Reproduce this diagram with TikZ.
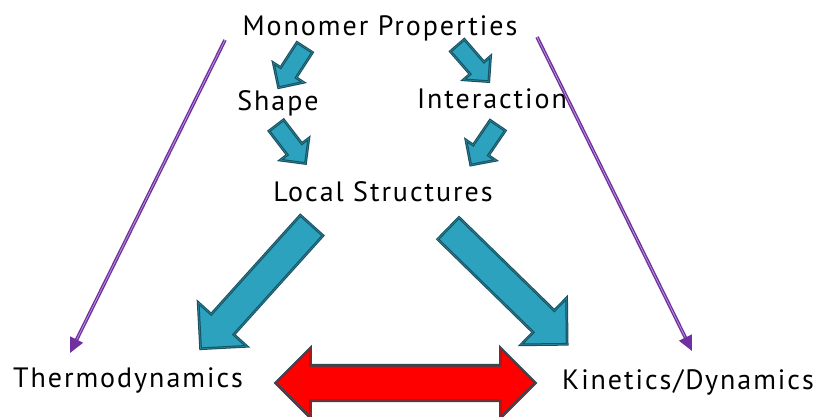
\documentclass[tikz,border=0pt]{standalone}
\usepackage{fontspec}
\setmainfont[LetterSpace=7]{PT Sans}
\usetikzlibrary{shapes.arrows,arrows.meta}

\definecolor{blockfill}{HTML}{2CA2BF}
\definecolor{blockedge}{HTML}{17505E}
\definecolor{blockline}{HTML}{2A8097}
\definecolor{linkpurple}{HTML}{7030A0}
\definecolor{linklight}{HTML}{B9A0D6}
\definecolor{twoedge}{HTML}{1F4F5C}
\definecolor{tworim}{HTML}{A02020}

\begin{document}
\begin{tikzpicture}[x=1pt,y=-1pt,
  word/.style={font=\fontsize{28}{32}\selectfont, inner sep=0pt, anchor=base},
  block/.style={single arrow, fill=blockfill, draw=blockedge, double=blockline,
    line width=1pt, double distance=0.7pt, anchor=tail},
  smallblock/.style={block, inner xsep=0pt, inner ysep=8.75pt,
    single arrow head extend=8.75pt, minimum height=48pt},
  bigblock/.style={block, inner xsep=0pt, inner ysep=14.75pt,
    single arrow head extend=17.5pt, minimum height=166pt},
  link/.style={draw=linkpurple, double=linklight, line width=1.4pt,
    double distance=0.7pt, -{Triangle[length=15pt,width=14pt]}}]
\useasboundingbox (0,0) rectangle (814,416);

% labels
\node[word] (mono) at (380,35) {Monomer Properties};
\node[word] (shape) at (278,110) {Shape};
\node[word] (inter) at (492,108) {Interaction};
\node[word] (local) at (383,201) {Local Structures};
\node[word] (thermo) at (128,387) {Thermodynamics};
\node[word] (kinetic) at (688,389) {Kinetics/Dynamics};

% block arrows
\node[smallblock, rotate=237] (ms) at (305,47) {};
\node[smallblock, rotate=-49] (mi) at (457,45) {};
\node[smallblock, rotate=-52.5] (sl) at (276,125) {};
\node[smallblock, rotate=235.7] (il) at (498,125) {};
\node[bigblock, rotate=228] (lt) at (312,225) {};
\node[bigblock, rotate=-44.3] (lk) at (448,228) {};
\node[double arrow, fill=red, draw=twoedge, double=tworim, line width=1pt,
  double distance=0.7pt, inner xsep=0pt, inner ysep=17.25pt,
  double arrow head extend=17.25pt, minimum height=260pt] (tk) at (405.5,383) {};

% purple links
\coordinate (m1) at (225,40);
\coordinate (t1) at (70,353);
\coordinate (m2) at (537,37);
\coordinate (k1) at (692,351);
\draw[link] (m1) -- (t1);
\draw[link] (m2) -- (k1);
\end{tikzpicture}
\end{document}
